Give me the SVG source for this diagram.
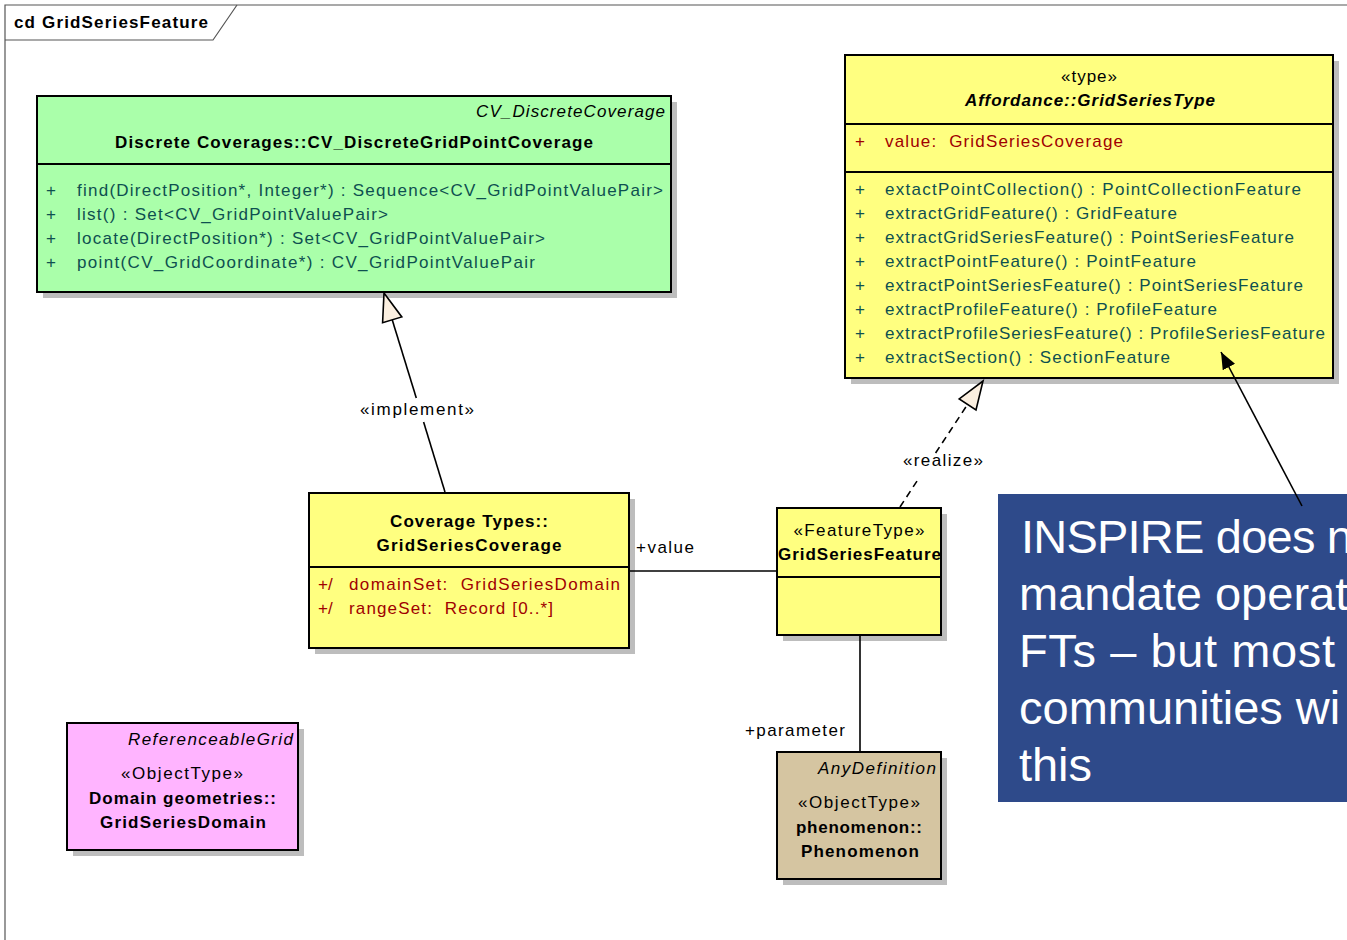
<svg xmlns="http://www.w3.org/2000/svg" width="1347" height="940" viewBox="0 0 1347 940">
<style>
text{font-family:"Liberation Sans",Arial,sans-serif;font-size:17px;fill:#000}
.b{font-weight:bold}
.i{font-style:italic}
.m{text-anchor:middle}
.e{text-anchor:end}
.op{fill:#0e5050}
.at{fill:#a00000}
.box{stroke:#000;stroke-width:2}
.sh{fill:#bdbdbd}
.div{stroke:#000;stroke-width:2}
.ln{stroke:#000;stroke-width:1.6;fill:none}
.note{font-size:47px;fill:#fff}
</style>
<defs>
<marker id="filled" markerWidth="18" markerHeight="14" refX="17" refY="7" orient="auto" markerUnits="userSpaceOnUse">
<path d="M0,0 L17,7 L0,14 Z" fill="#000"/>
</marker>
</defs>
<rect width="1347" height="940" fill="#fff"/>
<g id="frame">
<path d="M5,940 V5 H1347" fill="none" stroke="#555" stroke-width="1.2"/>
<path d="M5,40 H213 L237,5" fill="none" stroke="#555" stroke-width="1.2"/>
<text x="14" y="28" class="b" textLength="194">cd GridSeriesFeature</text>
</g>
<g id="CV_DiscreteGridPointCoverage">
<rect class="sh" x="43" y="102" width="634" height="196"/>
<rect class="box" x="37" y="96" width="634" height="196" fill="#aaffaa"/>
<line class="div" x1="37" y1="164" x2="671" y2="164"/>
<text x="665" y="117" class="i e" textLength="189">CV_DiscreteCoverage</text>
<text x="354" y="148" class="b m" textLength="478">Discrete Coverages::CV_DiscreteGridPointCoverage</text>
<text x="46" y="196" class="op">+</text><text x="77" y="196" class="op" textLength="586">find(DirectPosition*, Integer*) : Sequence&lt;CV_GridPointValuePair&gt;</text>
<text x="46" y="220" class="op">+</text><text x="77" y="220" class="op" textLength="311">list() : Set&lt;CV_GridPointValuePair&gt;</text>
<text x="46" y="244" class="op">+</text><text x="77" y="244" class="op" textLength="468">locate(DirectPosition*) : Set&lt;CV_GridPointValuePair&gt;</text>
<text x="46" y="268" class="op">+</text><text x="77" y="268" class="op" textLength="458">point(CV_GridCoordinate*) : CV_GridPointValuePair</text>
</g>
<g id="GridSeriesType">
<rect class="sh" x="851" y="61" width="488" height="323"/>
<rect class="box" x="845" y="55" width="488" height="323" fill="#ffff80"/>
<line class="div" x1="845" y1="124" x2="1333" y2="124"/>
<line class="div" x1="845" y1="172" x2="1333" y2="172"/>
<text x="1089" y="82" class="m" textLength="56">«type»</text>
<text x="1090" y="106" class="b i m" textLength="250">Affordance::GridSeriesType</text>
<text x="855" y="147" class="at">+</text><text x="885" y="147" class="at" textLength="238">value:&#160; GridSeriesCoverage</text>
<text x="855" y="195" class="op">+</text><text x="885" y="195" class="op" textLength="416">extactPointCollection() : PointCollectionFeature</text>
<text x="855" y="219" class="op">+</text><text x="885" y="219" class="op" textLength="292">extractGridFeature() : GridFeature</text>
<text x="855" y="243" class="op">+</text><text x="885" y="243" class="op" textLength="409">extractGridSeriesFeature() : PointSeriesFeature</text>
<text x="855" y="267" class="op">+</text><text x="885" y="267" class="op" textLength="311">extractPointFeature() : PointFeature</text>
<text x="855" y="291" class="op">+</text><text x="885" y="291" class="op" textLength="418">extractPointSeriesFeature() : PointSeriesFeature</text>
<text x="855" y="315" class="op">+</text><text x="885" y="315" class="op" textLength="332">extractProfileFeature() : ProfileFeature</text>
<text x="855" y="339" class="op">+</text><text x="885" y="339" class="op" textLength="440">extractProfileSeriesFeature() : ProfileSeriesFeature</text>
<text x="855" y="363" class="op">+</text><text x="885" y="363" class="op" textLength="285">extractSection() : SectionFeature</text>
</g>
<g id="GridSeriesCoverage">
<rect class="sh" x="315" y="499" width="320" height="155"/>
<rect class="box" x="309" y="493" width="320" height="155" fill="#ffff80"/>
<line class="div" x1="309" y1="567" x2="629" y2="567"/>
<text x="469" y="527" class="b m" textLength="158">Coverage Types::</text>
<text x="469" y="551" class="b m" textLength="185">GridSeriesCoverage</text>
<text x="318" y="590" class="at">+/</text><text x="349" y="590" class="at" textLength="271">domainSet:&#160; GridSeriesDomain</text>
<text x="318" y="614" class="at">+/</text><text x="349" y="614" class="at" textLength="204">rangeSet:&#160; Record [0..*]</text>
</g>
<g id="GridSeriesFeature">
<rect class="sh" x="783" y="514" width="164" height="127"/>
<rect class="box" x="777" y="508" width="164" height="127" fill="#ffff80"/>
<line class="div" x1="777" y1="577" x2="941" y2="577"/>
<text x="859" y="536" class="m" textLength="131">«FeatureType»</text>
<text x="859.5" y="560" class="b m" textLength="163">GridSeriesFeature</text>
</g>
<g id="Phenomenon">
<rect class="sh" x="783" y="758" width="164" height="127"/>
<rect class="box" x="777" y="752" width="164" height="127" fill="#d5c5a1"/>
<text x="936" y="774" class="i e" textLength="118">AnyDefinition</text>
<text x="859" y="808" class="m" textLength="122">«ObjectType»</text>
<text x="859" y="833" class="b m" textLength="126">phenomenon::</text>
<text x="860" y="857" class="b m" textLength="118">Phenomenon</text>
</g>
<g id="GridSeriesDomain">
<rect class="sh" x="73" y="729" width="231" height="127"/>
<rect class="box" x="67" y="723" width="231" height="127" fill="#ffb4ff"/>
<text x="293" y="745" class="i e" textLength="165">ReferenceableGrid</text>
<text x="182" y="779" class="m" textLength="122">«ObjectType»</text>
<text x="182.5" y="804" class="b m" textLength="187">Domain geometries::</text>
<text x="183" y="828" class="b m" textLength="166">GridSeriesDomain</text>
</g>
<g id="Note">
<rect x="998" y="494" width="360" height="308" fill="#2e4a8a"/>
<text x="1021" y="553" class="note" textLength="332">INSPIRE does n</text>
<text x="1019" y="610" class="note">mandate operat</text>
<text x="1019" y="667" class="note" textLength="316">FTs – but most</text>
<text x="1019" y="724" class="note">communities wi</text>
<text x="1019" y="781" class="note" textLength="73">this</text>
</g>
<g id="connectors">
<line class="ln" x1="629" y1="571" x2="777" y2="571"/>
<text x="636" y="553" textLength="58">+value</text>
<line class="ln" x1="860" y1="635" x2="860" y2="752"/>
<text x="745" y="736" textLength="100">+parameter</text>
<line class="ln" x1="445" y1="492" x2="423.6" y2="422"/>
<line class="ln" x1="416.3" y1="398" x2="392.2" y2="319.8"/>
<path d="M384,293 L401.8,316.9 L382.6,322.7 Z" fill="#fbefe0" stroke="#000" stroke-width="1.6"/>
<text x="417" y="415" class="m" textLength="114">«implement»</text>
<line class="ln" x1="900" y1="507" x2="919" y2="478" stroke-dasharray="7,5"/>
<line class="ln" x1="935.6" y1="453" x2="967.6" y2="404.4" stroke-dasharray="7,5"/>
<path d="M983,381 L976,410 L959.2,398.9 Z" fill="#fbefe0" stroke="#000" stroke-width="1.6"/>
<text x="943" y="466" class="m" textLength="80">«realize»</text>
<line class="ln" x1="1302" y1="506" x2="1221" y2="352" marker-end="url(#filled)"/>
</g>
</svg>
